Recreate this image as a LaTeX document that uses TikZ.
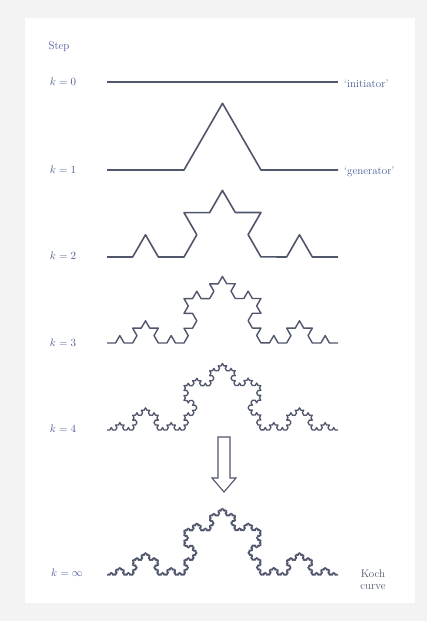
\documentclass[tikz,border=0pt]{standalone}
\usepackage{xcolor}
\usepackage{tikz}
\usetikzlibrary{decorations.fractals,positioning}
\definecolor{curve}{HTML}{50566C}
\definecolor{label}{HTML}{4A5A95}
\definecolor{panel}{HTML}{F3F3F3}

\begin{document}
\begin{tikzpicture}[x=1pt,y=1pt,
  kline/.style={curve,line width=1.6pt,line join=round},
  klabel/.style={text=label,font=\fontsize{11}{12}\selectfont,inner sep=0pt},
  koch/.style={decoration=Koch snowflake}]
  % background and panel
  \fill[panel] (0,0) rectangle (427,621);
  \fill[white] (25,18) rectangle (415,603);
  \useasboundingbox (0,0) rectangle (427,621);
  % end points of each step
  \foreach \n/\yy in {0/539,1/451,2/364,3/278,4/191,5/46}{
    \coordinate (s\n) at (107,\yy);
    \coordinate (e\n) at (338,\yy);}
  % steps
  \draw[kline] (s0) -- (e0);
  \draw[kline,koch] decorate{(s1) -- (e1)};
  \draw[kline,koch] decorate{decorate{(s2) -- (e2)}};
  \draw[kline,koch,line width=1.4pt] decorate{decorate{decorate{(s3) -- (e3)}}};
  \draw[kline,koch,line width=1.3pt] decorate{decorate{decorate{decorate{(s4) -- (e4)}}}};
  \draw[kline,koch,line width=1.3pt] decorate{decorate{decorate{decorate{decorate{(s5) -- (e5)}}}}};
  % labels
  \node[klabel] (step) at (59,574) {Step};
  \node[klabel] (k0) at (63,539) {$k=0$};
  \node[klabel] (k1) at (63,451) {$k=1$};
  \node[klabel] (k2) at (63,365) {$k=2$};
  \node[klabel] (k3) at (63,278) {$k=3$};
  \node[klabel] (k4) at (63,192) {$k=4$};
  \node[klabel] (kinf) at (67,48) {$k=\infty$};
  \node[klabel,anchor=west] (init) at (344,537) {`initiator'};
  \node[klabel,anchor=west] (gen) at (344,449) {`generator'};
  \node[klabel,align=center,text=curve] (koch) at (373,41) {Koch\\curve};
  % limit arrow
  \coordinate (a1) at (218,184); \coordinate (a2) at (230,184);
  \coordinate (tip) at (224,129);
  \draw[curve,line width=1.1pt,line join=miter,fill=white]
    (a1) -- (a2) -- (230,143) -- (236,143) -- (tip) -- (212,143) -- (218,143) -- cycle;
\end{tikzpicture}
\end{document}
